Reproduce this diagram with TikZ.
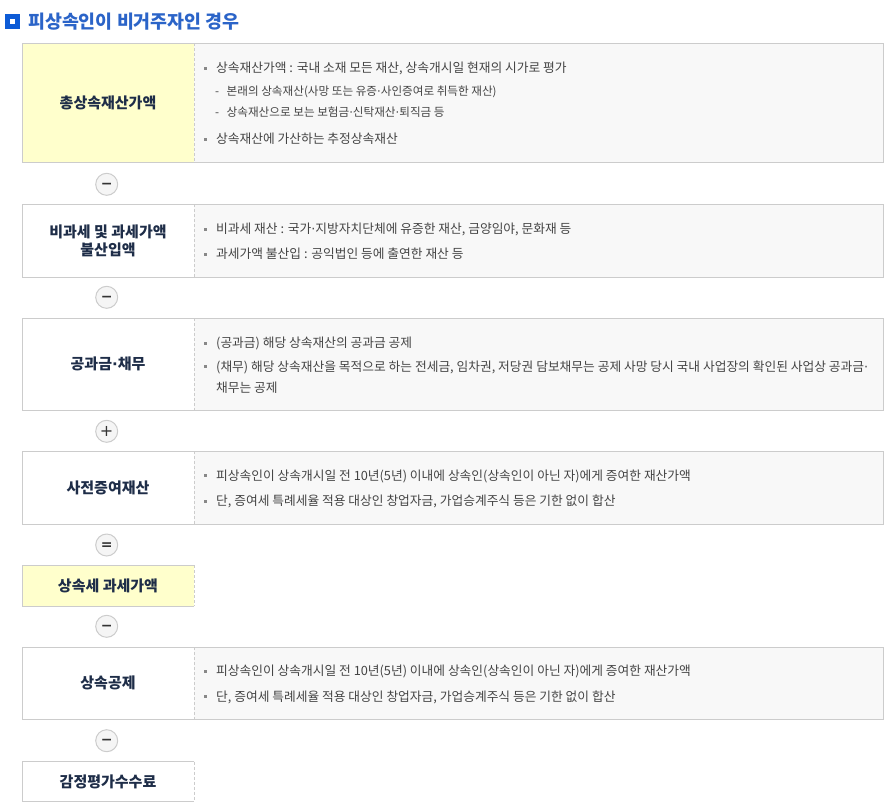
\documentclass[tikz,border=0pt]{standalone}
\usepackage{fontspec}
\newfontfamily\kr{Noto Sans CJK KR}
\newfontfamily\symf{DejaVu Sans}
\newcommand{\md}{{\symf ·}}
\definecolor{bordc}{HTML}{CCCCCC}
\definecolor{yelc}{HTML}{FFFFCC}
\definecolor{grayc}{HTML}{F8F8F8}
\definecolor{txtc}{HTML}{444444}
\definecolor{labc}{HTML}{1E2D48}
\definecolor{titc}{HTML}{2B64C8}
\definecolor{iconc}{HTML}{0D5BD6}
\definecolor{circc}{HTML}{F5F5F5}
\definecolor{bulc}{HTML}{888888}
\tikzset{
  leftcell/.style={anchor=north west, minimum width=172pt, inner sep=0pt, outer sep=0pt,
    text=labc, font=\kr\bfseries\fontsize{15}{18}\selectfont, align=center},
  rightcell/.style={anchor=north west, minimum width=689pt, inner sep=0pt, outer sep=0pt, fill=grayc},
  frame/.style={draw=bordc, line width=1pt},
  divider/.style={draw=bordc, line width=1pt, dash pattern=on 3pt off 2pt},
  itemtxt/.style={anchor=base west, inner sep=0pt, text=txtc, font=\kr\fontsize{12.75}{14}\selectfont},
  subtxt/.style={anchor=base west, inner sep=0pt, text=txtc, font=\kr\fontsize{11.6}{13}\selectfont},
  opcircle/.style={circle, draw=bordc, fill=circc, line width=1pt, minimum size=22pt, inner sep=0pt,
    text=black!80, text depth=0pt},
  opbold/.style={opcircle, font=\symf\bfseries\fontsize{14}{14}\selectfont, text height=8.4pt},
  opreg/.style={opcircle, font=\symf\fontsize{16}{16}\selectfont, text height=9.6pt},
}
\newcommand{\bul}[1]{\fill[bulc] (204.2,#1-1.5) rectangle ++(3,3);}
\begin{document}
\begin{tikzpicture}[x=1pt,y=-1pt]
\useasboundingbox (0,0) rectangle (891,807);
% title
\fill[iconc] (5,14) rectangle (19.5,28.5);
\fill[white] (9.5,18.5) rectangle (15,24);
\node[anchor=base west, inner sep=0pt, text=titc, font=\kr\bfseries\fontsize{18.4}{20}\selectfont] (title) at (28,28) {피상속인이 비거주자인 경우};

% box 1
\node[rightcell, minimum height=119.5pt] (r1) at (194,43.3) {};
\node[leftcell, fill=yelc, minimum height=119.5pt] (l1) at (22,43.3) {총상속재산가액};
\draw[frame] (l1.north west) rectangle (r1.south east);
\draw[divider] (l1.north east) -- (l1.south east);
\bul{68.3}
\node[itemtxt] (t11) at (216,72.8) {상속재산가액 : 국내 소재 모든 재산, 상속개시일 현재의 시가로 평가};
\node[subtxt] (t12d) at (215,95.9) {-};
\node[subtxt] (t12) at (226.5,95.9) {본래의 상속재산(사망 또는 유증\md 사인증여로 취득한 재산)};
\node[subtxt] (t13d) at (215,116.9) {-};
\node[subtxt] (t13) at (226.5,116.9) {상속재산으로 보는 보험금\md 신탁재산\md 퇴직금 등};
\bul{139.3}
\node[itemtxt] (t14) at (216,143.8) {상속재산에 가산하는 추정상속재산};

\node[opbold] (op1) at (106.7,184.3) {−};

% box 2
\node[rightcell, minimum height=72.7pt] (r2) at (194,204.3) {};
\node[leftcell, fill=white, minimum height=72.7pt] (l2) at (22,204.3) {비과세 및 과세가액\\불산입액};
\draw[frame] (l2.north west) rectangle (r2.south east);
\draw[divider] (l2.north east) -- (l2.south east);
\bul{229}
\node[itemtxt] (t21) at (216,233.5) {비과세 재산 : 국가\md 지방자치단체에 유증한 재산, 금양임야, 문화재 등};
\bul{254.3}
\node[itemtxt] (t22) at (216,258.8) {과세가액 불산입 : 공익법인 등에 출연한 재산 등};

\node[opbold] (op2) at (106.7,297.3) {−};

% box 3
\node[rightcell, minimum height=92pt] (r3) at (194,318.3) {};
\node[leftcell, fill=white, minimum height=92pt] (l3) at (22,318.3) {공과금\md 채무};
\draw[frame] (l3.north west) rectangle (r3.south east);
\draw[divider] (l3.north east) -- (l3.south east);
\bul{343.3}
\node[itemtxt] (t31) at (216,347.8) {(공과금) 해당 상속재산의 공과금 공제};
\bul{366.7}
\node[itemtxt] (t32) at (216,371.2) {(채무) 해당 상속재산을 목적으로 하는 전세금, 임차권, 저당권 담보채무는 공제 사망 당시 국내 사업장의 확인된 사업상 공과금\md};
\node[itemtxt] (t33) at (216,392.2) {채무는 공제};

\node[opreg] (op3) at (106.7,431.3) {+};

% box 4
\node[rightcell, minimum height=72.7pt] (r4) at (194,451.3) {};
\node[leftcell, fill=white, minimum height=72.7pt] (l4) at (22,451.3) {사전증여재산};
\draw[frame] (l4.north west) rectangle (r4.south east);
\draw[divider] (l4.north east) -- (l4.south east);
\bul{475.7}
\node[itemtxt] (t41) at (216,480.2) {피상속인이 상속개시일 전 10년(5년) 이내에 상속인(상속인이 아닌 자)에게 증여한 재산가액};
\bul{501}
\node[itemtxt] (t42) at (216,505.5) {단, 증여세 특례세율 적용 대상인 창업자금, 가업승계주식 등은 기한 없이 합산};

\node[opbold] (op4) at (106.7,545) {=};

% box 5
\node[leftcell, fill=yelc, minimum height=40.7pt] (l5) at (22,565.3) {상속세 과세가액};
\draw[frame] (l5.north east) -- (l5.north west) -- (l5.south west) -- (l5.south east);
\draw[divider] (l5.north east) -- (l5.south east);

\node[opbold] (op5) at (106.7,626.3) {−};

% box 6
\node[rightcell, minimum height=72.7pt] (r6) at (194,647) {};
\node[leftcell, fill=white, minimum height=72.7pt] (l6) at (22,647) {상속공제};
\draw[frame] (l6.north west) rectangle (r6.south east);
\draw[divider] (l6.north east) -- (l6.south east);
\bul{671.4}
\node[itemtxt] (t61) at (216,675.9) {피상속인이 상속개시일 전 10년(5년) 이내에 상속인(상속인이 아닌 자)에게 증여한 재산가액};
\bul{696.7}
\node[itemtxt] (t62) at (216,701.2) {단, 증여세 특례세율 적용 대상인 창업자금, 가업승계주식 등은 기한 없이 합산};

\node[opbold] (op6) at (106.7,740.7) {−};

% box 7
\node[leftcell, fill=white, minimum height=39.5pt] (l7) at (22,761.7) {감정평가수수료};
\draw[frame] (l7.north east) -- (l7.north west) -- (l7.south west) -- (l7.south east);
\draw[divider] (l7.north east) -- (l7.south east);
\end{tikzpicture}
\end{document}
